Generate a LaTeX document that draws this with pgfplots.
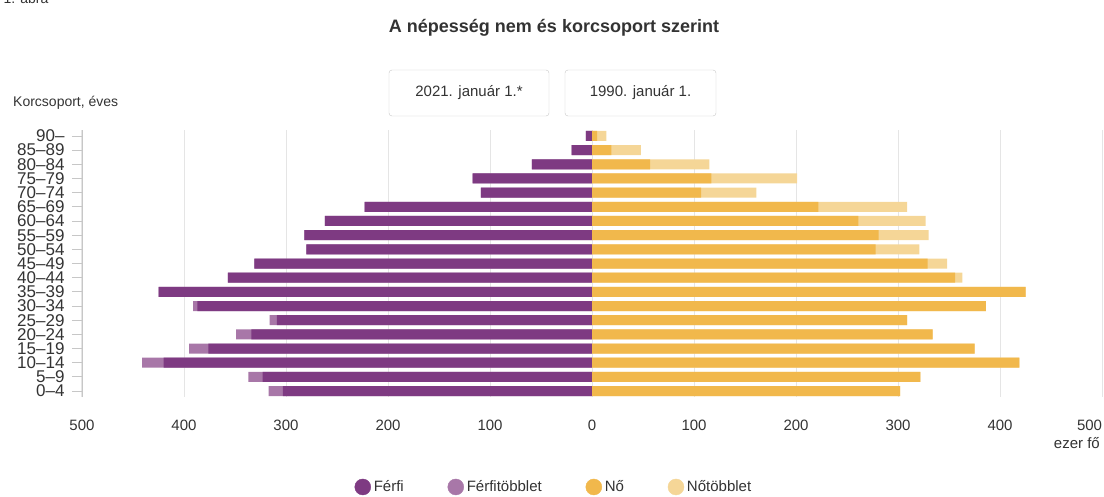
\documentclass[border=0pt]{standalone}
\usepackage{fontspec}
\setmainfont{Liberation Sans}
\usepackage{pgfplots}
\pgfplotsset{compat=1.18}

\definecolor{pdark}{HTML}{7E3A82}
\definecolor{plight}{HTML}{A877A8}
\definecolor{odark}{HTML}{F1B84C}
\definecolor{olight}{HTML}{F5D697}
\definecolor{txt}{HTML}{333333}

% y: age group index, m/mt: male (base / with surplus), f/ft: female (base / with surplus), thousand persons
\pgfplotstableread{
y  m     mt    f    ft
0  -303  -317  302  302
1  -323  -337  322  322
2  -420  -441  419  419
3  -376  -395  375  375
4  -334  -349  334  334
5  -309  -316  309  309
6  -387  -391  386  386
7  -425  -425  425  425
8  -357  -357  356  363
9  -331  -331  329  348
10 -280  -280  278  321
11 -282  -282  281  330
12 -262  -262  261  327
13 -223  -223  222  309
14 -109  -109  107  161
15 -117  -117  117  201
16 -59   -59   57   115
17 -20   -20   19   48
18 -6    -6    5    14
}\pyramid

\begin{document}
\begin{tikzpicture}
\useasboundingbox (-82pt,-99pt) rectangle (1022pt,397pt);
\begin{axis}[
  at={(0pt,0pt)}, anchor=south west,
  scale only axis,
  width=1020pt, height=267pt,
  xmin=-500, xmax=500,
  ymin=-0.42, ymax=18.42,
  axis lines*=left,
  x axis line style={draw=none},
  y axis line style={draw=black!22},
  xtick={-500,-400,...,500},
  xticklabels={500,400,300,200,100,0,100,200,300,400,\makebox[0pt][r]{500}},
  ytick={0,...,18},
  yticklabels={0–4,5–9,10–14,15–19,20–24,25–29,30–34,35–39,40–44,45–49,50–54,55–59,60–64,65–69,70–74,75–79,80–84,85–89,90–},
  xtick style={draw=none},
  ytick style={draw=black!22, line width=0.8pt},
  major tick length=10pt,
  tick align=outside,
  xmajorgrids,
  major grid style={draw=black!10, line width=1pt},
  /pgf/number format/assume math mode=true,
  xticklabel style={font=\fontsize{15}{15}\selectfont, text=txt, yshift=-9pt},
  yticklabel style={font=\fontsize{17}{14}\selectfont, text=txt, xshift=-4pt},
  legend columns=4,
  legend style={at={(0.4627,-0.337)}, anchor=center, draw=none,
    font=\fontsize{15}{15}\selectfont, text=txt,
    /tikz/every odd column/.append style={column sep=1pt},
    /tikz/every even column/.append style={column sep=42pt}},
]
\addplot[xbar, bar width=10pt, bar shift=0pt, fill=plight, draw=none, forget plot] table[x=mt, y=y] {\pyramid};
\addplot[xbar, bar width=10pt, bar shift=0pt, fill=pdark, draw=none, forget plot] table[x=m, y=y] {\pyramid};
\addplot[xbar, bar width=10pt, bar shift=0pt, fill=olight, draw=none, forget plot] table[x=ft, y=y] {\pyramid};
\addplot[xbar, bar width=10pt, bar shift=0pt, fill=odark, draw=none, forget plot] table[x=f, y=y] {\pyramid};

\addlegendimage{only marks, mark=*, mark size=8pt, color=pdark}
\addlegendentry{Férfi}
\addlegendimage{only marks, mark=*, mark size=8pt, color=plight}
\addlegendentry{Férfitöbblet}
\addlegendimage{only marks, mark=*, mark size=8pt, color=odark}
\addlegendentry{Nő}
\addlegendimage{only marks, mark=*, mark size=8pt, color=olight}
\addlegendentry{Nőtöbblet}
\end{axis}

% title, selector buttons and labels
\node[anchor=base west, font=\fontsize{14}{14}\selectfont, text=txt] at (-82pt,393pt) {1. ábra};
\node[font=\bfseries\fontsize{18}{18}\selectfont, text=txt] at (472pt,369pt) {A népesség nem és korcsoport szerint};
\draw[black!22, rounded corners=3pt] (307pt,327pt) rectangle (467pt,281pt);
\node[font=\fontsize{15}{15}\selectfont, text=txt] at (387pt,304pt) {2021. január 1.*};
\draw[black!22, rounded corners=3pt] (483pt,327pt) rectangle (634pt,281pt);
\node[font=\fontsize{15}{15}\selectfont, text=txt] at (558.5pt,304pt) {1990. január 1.};
\node[anchor=west, font=\fontsize{14}{14}\selectfont, text=txt, inner sep=0pt] at (-69pt,294pt) {Korcsoport, éves};
\node[anchor=east, font=\fontsize{15}{15}\selectfont, text=txt, inner sep=0pt] at (1018pt,-46pt) {ezer fő};
\end{tikzpicture}
\end{document}
